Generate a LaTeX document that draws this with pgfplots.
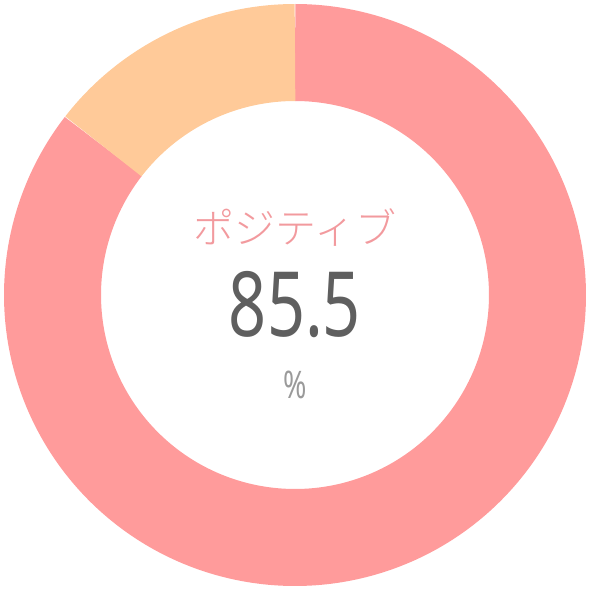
\documentclass[border=0pt]{standalone}
\usepackage{pgfplots}
\pgfplotsset{compat=1.18}
\usepackage{fontspec}
\setmainfont{Noto Sans}
\newfontfamily\jp[UprightFont=* Light]{Noto Sans CJK JP}
\newfontfamily\cond[FakeStretch=0.74]{Noto Sans}
\definecolor{pinkc}{HTML}{FF9B9B}
\definecolor{orangec}{HTML}{FFCA99}
\definecolor{txtpink}{HTML}{F29A9E}
\definecolor{numgray}{HTML}{5F5F5F}
\definecolor{pctgray}{HTML}{9A9A9A}
\def\pos{85.5}
\begin{document}
\begin{tikzpicture}
\pgfmathsetmacro{\split}{90+3.6*(100-\pos)}
\pgfmathsetmacro{\pend}{\split-360}
\begin{axis}[
  hide axis, scale only axis,
  x=0.5pt, y=0.5pt,
  xmin=-295, xmax=295, ymin=-295, ymax=295,
  clip=false,
]
% positive share (pink), from top clockwise
\addplot[data cs=polar, domain=90:\pend, samples=300, line width=48.5pt, pinkc, no marks] {242.5};
% negative share (orange)
\addplot[data cs=polar, domain=\split:90, samples=80, line width=48.5pt, orangec, no marks] {242.5};
\node[txtpink, font=\jp\fontsize{20.5pt}{22pt}\selectfont] at (axis cs:0,67) {ポジティブ};
\node[numgray, font=\cond\fontsize{45pt}{48pt}\selectfont] at (axis cs:0,-10) {85.5};
\node[pctgray, font=\cond\fontsize{19pt}{21pt}\selectfont] at (axis cs:0,-90) {\%};
\end{axis}
\pgfresetboundingbox
\path[use as bounding box] (current axis.south west) rectangle (current axis.north east);
\end{tikzpicture}
\end{document}
